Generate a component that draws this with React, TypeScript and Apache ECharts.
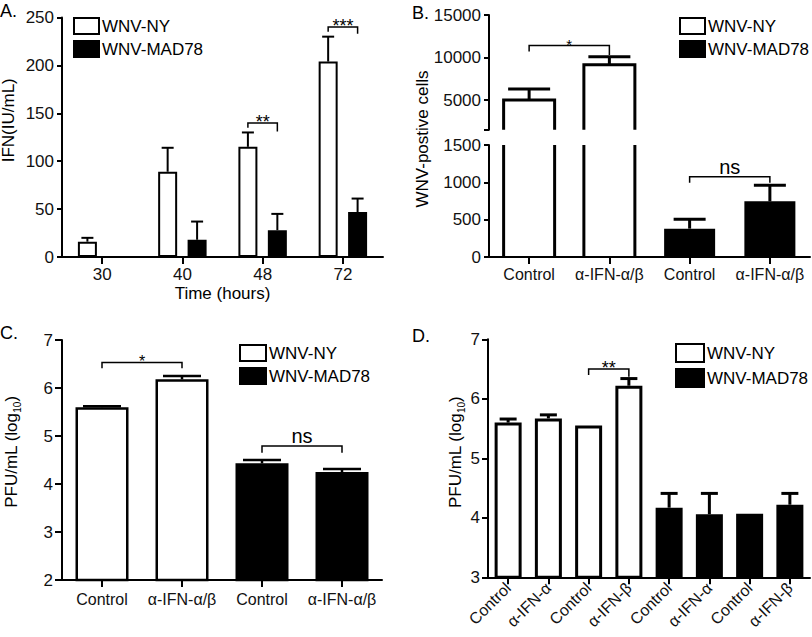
import React, { useEffect, useRef } from 'react';
import * as echarts from 'echarts';

const FONT = '"Liberation Sans", Arial, Helvetica, sans-serif';
const NY = 'WNV-NY';
const MAD = 'WNV-MAD78';

// ---------- Panel A: IFN (IU/mL) over time ----------
const aCategories = ['30', '40', '48', '72'];
const aNY = [16, 89, 115, 204];
const aNYErr = [20, 114, 130, 230];
const aMAD = [null, 18, 28, 47];
const aMADErr = [null, 37, 45, 61];
// bracket rows: [fromCat, toCat, bracketY, leftLegEnd, rightLegEnd]
const aBrackets = [
  [2, 2, 140, 135, 131],
  [3, 3, 240, 235, 233],
];
const aBracketLabels = ['**', '***'];

// ---------- Panel B: WNV-positive cells (broken axis) ----------
const bCategories = ['Control', 'α-IFN-α/β', 'Control', 'α-IFN-α/β'];
const bNY = [5000, 9150, null, null];
const bNYErr = [6300, 10100, null, null];
const bMAD = [null, null, 380, 745];
const bMADErr = [null, null, 505, 960];
const bUpperTicks = [5000, 10000, 15000];
const bUpperTickMarks = [1500, 5000, 10000, 15000];
const bUpperBrackets = [[0, 1, 11400, 10700, 10300]];
const bUpperBracketLabels = ['*'];
const bLowerBrackets = [[2, 3, 1075, 995, 995]];
const bLowerBracketLabels = ['ns'];

// ---------- Panel C: PFU/mL (log10) ----------
const cCategories = ['Control', 'α-IFN-α/β', 'Control', 'α-IFN-α/β'];
const cNY = [5.6, 6.18, null, null];
const cNYErr = [5.62, 6.25, null, null];
const cMAD = [null, null, 4.43, 4.25];
const cMADErr = [null, null, 4.5, 4.31];
const cBrackets = [
  [0, 1, 6.53, 6.41, 6.41],
  [2, 3, 4.79, 4.65, 4.65],
];
const cBracketLabels = ['*', 'ns'];

// ---------- Panel D: PFU/mL (log10), IFN-α vs IFN-β ----------
const dCategories = ['Control', 'α-IFN-α', 'Control', 'α-IFN-β', 'Control', 'α-IFN-α', 'Control', 'α-IFN-β'];
const dNY = [5.6, 5.67, 5.55, 6.22, null, null, null, null];
const dNYErr = [5.66, 5.73, null, 6.34, null, null, null, null];
const dMAD = [null, null, null, null, 4.17, 4.06, 4.07, 4.22];
const dMADErr = [null, null, null, null, 4.41, 4.41, null, 4.41];
const dBrackets = [[2, 3, 6.5, 6.4, 6.37]];
const dBracketLabels = ['**'];

// ---------- helpers ----------
const errRows = (vals: (number | null)[], errs: (number | null)[]) =>
  vals
    .map((v, i) => (v == null || errs[i] == null ? null : [i, v, errs[i] as number]))
    .filter((r) => r !== null) as number[][];
const valRows = (vals: (number | null)[]) =>
  vals.map((v, i) => (v == null ? null : [i, v])).filter((r) => r !== null) as number[][];

const BLACK = '#000';
const plain = (v: number) => String(v);

const errorBar = (shift: number, cap: number, lw: number) => (params: any, api: any) => {
  const c = api.value(0);
  const lo = api.coord([c, api.value(1)]);
  const hi = api.coord([c, api.value(2)]);
  const x = lo[0] + shift;
  const st = { stroke: BLACK, lineWidth: lw, fill: 'none' };
  return {
    type: 'group',
    children: [
      { type: 'line', shape: { x1: x, y1: lo[1], x2: x, y2: hi[1] }, style: st },
      { type: 'line', shape: { x1: x - cap / 2, y1: hi[1], x2: x + cap / 2, y2: hi[1] }, style: st },
    ],
  };
};

const bracket =
  (labels: string[], shiftL: number, shiftR: number, lw: number, starSize: number, nsSize: number) =>
  (params: any, api: any) => {
    const from = api.value(0);
    const to = api.value(1);
    const y = api.coord([from, api.value(2)])[1];
    const yl = api.coord([from, api.value(3)])[1];
    const yr = api.coord([to, api.value(4)])[1];
    const xl = api.coord([from, api.value(2)])[0] + shiftL;
    const xr = api.coord([to, api.value(2)])[0] + shiftR;
    const label = labels[params.dataIndex];
    const star = label.indexOf('*') >= 0;
    return {
      type: 'group',
      children: [
        {
          type: 'polyline',
          shape: { points: [[xl, yl], [xl, y], [xr, y], [xr, yr]] },
          style: { stroke: BLACK, lineWidth: lw, fill: 'none' },
        },
        {
          type: 'text',
          x: (xl + xr) / 2,
          y: y + (star ? starSize * 0.45 : 0),
          style: {
            text: label,
            fontSize: star ? starSize : nsSize,
            fontFamily: FONT,
            fill: BLACK,
            align: 'center',
            verticalAlign: 'bottom',
          },
        },
      ],
    };
  };

// upper part of a bar cut by an axis break: open at the bottom
const brokenTop = (w: number, lw: number, baseVal: number) => (params: any, api: any) => {
  const c = api.value(0);
  const top = api.coord([c, api.value(1)]);
  const base = api.coord([c, baseVal]);
  const x0 = top[0] - w / 2;
  const x1 = top[0] + w / 2;
  return {
    type: 'polyline',
    shape: { points: [[x0, base[1]], [x0, top[1]], [x1, top[1]], [x1, base[1]]] },
    style: { fill: '#fff', stroke: BLACK, lineWidth: lw },
  };
};

// lower part of a bar cut by an axis break: open at the top
const brokenBottom = (w: number, lw: number, lo: number, hi: number) => (params: any, api: any) => {
  const c = api.value(0);
  const v = Math.min(api.value(1), hi);
  const a = api.coord([c, lo]);
  const b = api.coord([c, v]);
  const x0 = a[0] - w / 2;
  const x1 = a[0] + w / 2;
  const st = { stroke: BLACK, lineWidth: lw, fill: 'none' };
  return {
    type: 'group',
    children: [
      { type: 'line', shape: { x1: x0, y1: a[1], x2: x0, y2: b[1] }, style: st },
      { type: 'line', shape: { x1: x1, y1: a[1], x2: x1, y2: b[1] }, style: st },
    ],
  };
};

const lineStyle = (w: number) => ({ color: BLACK, width: w });

const xAxis = (gridIndex: number, data: string[], opts: any = {}) => ({
  type: 'category',
  gridIndex,
  data,
  axisLine: { show: true, onZero: false, lineStyle: lineStyle(2) },
  axisTick: { show: true, alignWithLabel: true, length: 7, lineStyle: lineStyle(2) },
  axisLabel: { color: '#111', fontSize: 16, fontFamily: FONT, margin: 9, interval: 0, ...(opts.axisLabel || {}) },
  splitLine: { show: false },
  ...opts.rest,
});

const yAxis = (gridIndex: number, min: number, max: number, interval: number | undefined, opts: any = {}) => ({
  type: 'value',
  gridIndex,
  min,
  max,
  interval,
  axisLine: { show: true, onZero: false, lineStyle: lineStyle(2) },
  axisTick: { show: true, length: opts.tick || 5, lineStyle: lineStyle(2), ...(opts.axisTick || {}) },
  axisLabel: {
    color: '#111',
    fontSize: 17,
    fontFamily: FONT,
    margin: opts.margin || 8,
    formatter: plain,
    ...(opts.axisLabel || {}),
  },
  splitLine: { show: false },
  nameMoveOverlap: false,
  ...opts.rest,
});

const legend = (left: number, top: number, w: number, h: number) => ({
  orient: 'vertical',
  left,
  top,
  padding: 0,
  itemGap: 5,
  itemWidth: w,
  itemHeight: h,
  icon: 'rect',
  selectedMode: false,
  itemStyle: { borderColor: BLACK, borderWidth: 2 },
  textStyle: { fontSize: 17, color: BLACK, fontFamily: FONT, padding: [0, 0, 0, -2] },
  data: [NY, MAD],
});

const nyStyle = (bw: number) => ({ color: '#fff', borderColor: BLACK, borderWidth: bw });
const madStyle = (bw: number) => ({ color: BLACK, borderColor: BLACK, borderWidth: bw });

const A_BAR = 19;
const A_GAP = 0.55;
const A_SHIFT = (A_BAR + A_BAR * A_GAP) / 2;

const log10Name = '{a|PFU/mL (log}{s|10}{a|)}';
const log10Style = (padLeft: number) => ({
  color: BLACK,
  fontFamily: FONT,
  fontSize: 17,
  padding: [0, 0, 0, padLeft],
  rich: {
    a: { fontSize: 17, fontFamily: FONT, color: BLACK, lineHeight: 22, verticalAlign: 'middle' },
    s: { fontSize: 10, fontFamily: FONT, color: BLACK, lineHeight: 22, verticalAlign: 'bottom' },
  },
});

function buildOption(): any {
  return {
    animation: false,
    backgroundColor: '#fff',
    textStyle: { fontFamily: FONT },
    grid: [
      { left: 62, top: 17.5, width: 321, height: 239.5, outerBoundsMode: 'none' },
      { left: 489, top: 15, width: 321, height: 114.75, outerBoundsMode: 'none' },
      { left: 489, top: 145, width: 321, height: 112, outerBoundsMode: 'none' },
      { left: 62, top: 340, width: 320, height: 240, outerBoundsMode: 'none' },
      { left: 488, top: 339.3, width: 322, height: 238, outerBoundsMode: 'none' },
    ],
    xAxis: [
      xAxis(0, aCategories, {
        axisLabel: { fontSize: 17 },
        rest: {
          name: 'Time (hours)',
          nameLocation: 'middle',
          nameGap: 28,
          nameMoveOverlap: false,
          nameTextStyle: { fontSize: 17, color: BLACK, fontFamily: FONT },
        },
      }),
      { ...xAxis(1, bCategories), show: false },
      xAxis(2, bCategories),
      xAxis(3, cCategories, { axisLabel: { margin: 11 } }),
      xAxis(4, dCategories, { axisLabel: { rotate: 45, margin: 8 } }),
    ],
    yAxis: [
      yAxis(0, 0, 250, 50, {
        rest: {
          name: 'IFN(IU/mL)',
          nameLocation: 'middle',
          nameGap: 45,
          nameTextStyle: { fontSize: 17, color: BLACK, fontFamily: FONT, padding: [0, 0, 0, 34] },
        },
      }),
      yAxis(1, 1500, 15000, undefined, {
        axisLabel: { customValues: bUpperTicks },
        axisTick: { customValues: bUpperTickMarks },
      }),
      yAxis(2, 0, 1500, 500),
      yAxis(3, 2, 7, 1, {
        tick: 7,
        margin: 9,
        rest: {
          name: log10Name,
          nameLocation: 'middle',
          nameGap: 40,
          nameTextStyle: log10Style(16),
        },
      }),
      yAxis(4, 3, 7, 1, {
        tick: 6,
        margin: 8,
        rest: {
          name: log10Name,
          nameLocation: 'middle',
          nameGap: 22,
          nameTextStyle: log10Style(12),
        },
      }),
    ],
    legend: [legend(73, 17, 25, 16), legend(679, 17, 25, 16), legend(239, 344, 26, 16), legend(675, 343, 28, 18)],
    graphic: [
      { type: 'text', left: 0, top: 2, style: { text: 'A.', fontSize: 18, fontFamily: FONT, fill: BLACK } },
      { type: 'text', left: 412, top: 4, style: { text: 'B.', fontSize: 18, fontFamily: FONT, fill: BLACK } },
      { type: 'text', left: 0, top: 324, style: { text: 'C.', fontSize: 18, fontFamily: FONT, fill: BLACK } },
      { type: 'text', left: 412, top: 327, style: { text: 'D.', fontSize: 18, fontFamily: FONT, fill: BLACK } },
      {
        type: 'text',
        x: 422,
        y: 139,
        rotation: Math.PI / 2,
        style: {
          text: 'WNV-postive cells',
          fontSize: 17,
          fontFamily: FONT,
          fill: BLACK,
          align: 'center',
          verticalAlign: 'middle',
        },
      },
    ],
    series: [
      // ---- A ----
      { type: 'bar', name: NY, xAxisIndex: 0, yAxisIndex: 0, data: aNY, barWidth: A_BAR, barGap: `${A_GAP * 100}%`, itemStyle: nyStyle(2) },
      { type: 'bar', name: MAD, xAxisIndex: 0, yAxisIndex: 0, data: aMAD, barWidth: A_BAR, barGap: `${A_GAP * 100}%`, itemStyle: madStyle(2) },
      { type: 'custom', name: NY, xAxisIndex: 0, yAxisIndex: 0, z: 3, data: errRows(aNY, aNYErr), encode: { x: 0, y: [1, 2] }, renderItem: errorBar(-A_SHIFT, 12, 2) },
      { type: 'custom', name: MAD, xAxisIndex: 0, yAxisIndex: 0, z: 3, data: errRows(aMAD, aMADErr), encode: { x: 0, y: [1, 2] }, renderItem: errorBar(A_SHIFT, 12, 2) },
      { type: 'custom', xAxisIndex: 0, yAxisIndex: 0, z: 3, data: aBrackets, encode: { x: [0, 1], y: [2, 3, 4] }, renderItem: bracket(aBracketLabels, -A_SHIFT, A_SHIFT, 1.5, 18, 20) },

      // ---- B upper ----
      { type: 'custom', name: NY, xAxisIndex: 1, yAxisIndex: 1, z: 2, data: valRows(bNY), encode: { x: 0, y: 1 }, renderItem: brokenTop(51, 3, 1500) },
      { type: 'custom', name: NY, xAxisIndex: 1, yAxisIndex: 1, z: 3, data: errRows(bNY, bNYErr), encode: { x: 0, y: [1, 2] }, renderItem: errorBar(0, 42, 3) },
      { type: 'custom', xAxisIndex: 1, yAxisIndex: 1, z: 3, data: bUpperBrackets, encode: { x: [0, 1], y: [2, 3, 4] }, renderItem: bracket(bUpperBracketLabels, 0, 0, 1.5, 15, 20) },
      // ---- B lower ----
      { type: 'custom', name: NY, xAxisIndex: 2, yAxisIndex: 2, z: 2, data: valRows(bNY), encode: { x: 0, y: 1 }, renderItem: brokenBottom(51, 3, 0, 1500) },
      { type: 'bar', name: MAD, xAxisIndex: 2, yAxisIndex: 2, data: bMAD, barWidth: 51, barGap: '-100%', itemStyle: madStyle(3) },
      { type: 'custom', name: MAD, xAxisIndex: 2, yAxisIndex: 2, z: 3, data: errRows(bMAD, bMADErr), encode: { x: 0, y: [1, 2] }, renderItem: errorBar(0, 32, 3) },
      { type: 'custom', xAxisIndex: 2, yAxisIndex: 2, z: 3, data: bLowerBrackets, encode: { x: [0, 1], y: [2, 3, 4] }, renderItem: bracket(bLowerBracketLabels, 0, 0, 1.5, 15, 20) },

      // ---- C ----
      { type: 'bar', name: NY, xAxisIndex: 3, yAxisIndex: 3, data: cNY, barWidth: 53, barGap: '-100%', itemStyle: nyStyle(2.5) },
      { type: 'bar', name: MAD, xAxisIndex: 3, yAxisIndex: 3, data: cMAD, barWidth: 53, barGap: '-100%', itemStyle: madStyle(2.5) },
      { type: 'custom', name: NY, xAxisIndex: 3, yAxisIndex: 3, z: 3, data: errRows(cNY, cNYErr), encode: { x: 0, y: [1, 2] }, renderItem: errorBar(0, 38, 2.5) },
      { type: 'custom', name: MAD, xAxisIndex: 3, yAxisIndex: 3, z: 3, data: errRows(cMAD, cMADErr), encode: { x: 0, y: [1, 2] }, renderItem: errorBar(0, 38, 2.5) },
      { type: 'custom', xAxisIndex: 3, yAxisIndex: 3, z: 3, data: cBrackets, encode: { x: [0, 1], y: [2, 3, 4] }, renderItem: bracket(cBracketLabels, 0, 0, 1.5, 16, 20) },

      // ---- D ----
      { type: 'bar', name: NY, xAxisIndex: 4, yAxisIndex: 4, data: dNY, barWidth: 27, barGap: '-100%', itemStyle: nyStyle(3) },
      { type: 'bar', name: MAD, xAxisIndex: 4, yAxisIndex: 4, data: dMAD, barWidth: 27, barGap: '-100%', itemStyle: madStyle(3) },
      { type: 'custom', name: NY, xAxisIndex: 4, yAxisIndex: 4, z: 3, data: errRows(dNY, dNYErr), encode: { x: 0, y: [1, 2] }, renderItem: errorBar(0, 17, 3) },
      { type: 'custom', name: MAD, xAxisIndex: 4, yAxisIndex: 4, z: 3, data: errRows(dMAD, dMADErr), encode: { x: 0, y: [1, 2] }, renderItem: errorBar(0, 17, 3) },
      { type: 'custom', xAxisIndex: 4, yAxisIndex: 4, z: 3, data: dBrackets, encode: { x: [0, 1], y: [2, 3, 4] }, renderItem: bracket(dBracketLabels, 0, 0, 1.5, 18, 20) },
    ],
  };
}

export default function App() {
  const ref = useRef<HTMLDivElement>(null);
  useEffect(() => {
    document.body.style.margin = '0';
    if (!ref.current) return;
    const chart = echarts.init(ref.current, undefined, { renderer: 'svg' });
    chart.setOption(buildOption());
    return () => chart.dispose();
  }, []);
  return <div ref={ref} style={{ width: 812, height: 637 }} />;
}
